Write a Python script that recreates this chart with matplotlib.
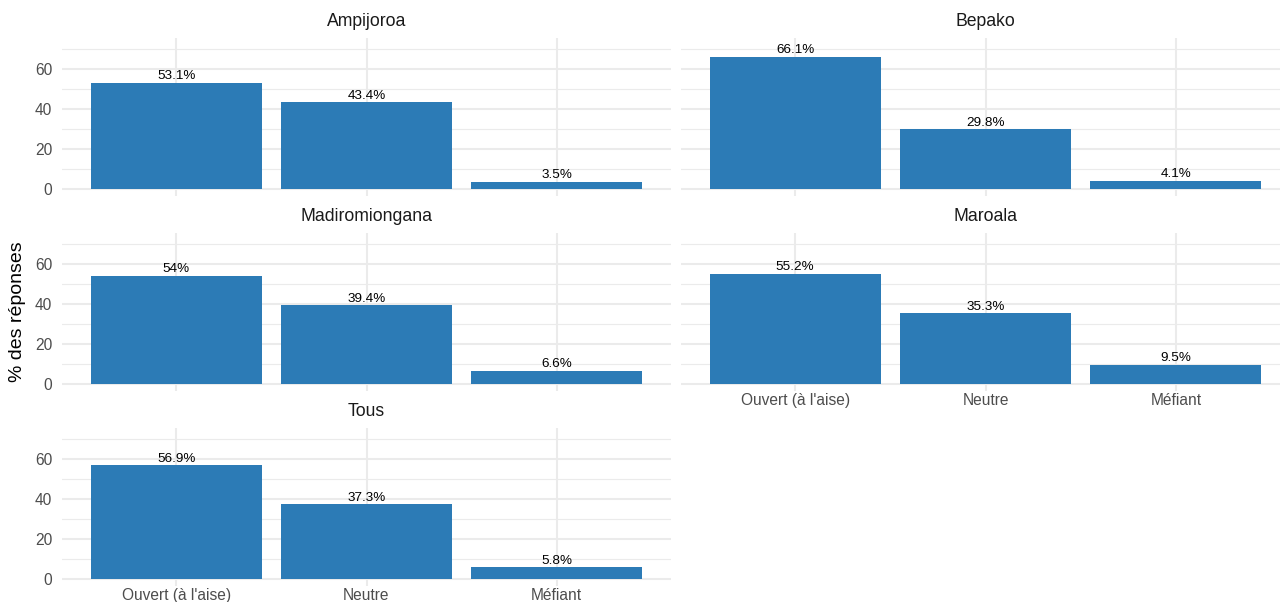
import matplotlib
matplotlib.use('Agg')
import matplotlib.pyplot as plt
from matplotlib.ticker import FixedLocator

plt.rcParams['font.family'] = ['Liberation Sans', 'DejaVu Sans']

# data
sites = ['Ampijoroa', 'Bepako', 'Madiromiongana', 'Maroala', 'Tous']
categories = ["Ouvert (à l'aise)", 'Neutre', 'Méfiant']
ampijoroa = [53.1, 43.4, 3.5]
bepako = [66.1, 29.8, 4.1]
madiromiongana = [54.0, 39.4, 6.6]
maroala = [55.2, 35.3, 9.5]
tous = [56.9, 37.3, 5.8]
values = [ampijoroa, bepako, madiromiongana, maroala, tous]

major_ticks = [0, 20, 40, 60]
minor_ticks = [10, 30, 50, 70]

bar_color = '#2C7BB6'
grid_color = '#EBEBEB'

W, H = 1280, 602
fig = plt.figure(figsize=(W / 100, H / 100), dpi=100)

# panel boxes in pixels: left, top, width, height
col_left = [62, 681]
row_top = [38, 233, 428]
pw, ph = 609, 158

x = [1, 2, 3]
for i, (site, vals) in enumerate(zip(sites, values)):
    r, c = divmod(i, 2)
    left, top = col_left[c], row_top[r]
    ax = fig.add_axes([left / W, 1 - (top + ph) / H, pw / W, ph / H])
    ax.set_xlim(0.4, 3.6)
    ax.set_ylim(-3.6, 75.6)
    ax.set_axisbelow(True)
    for s in ax.spines.values():
        s.set_visible(False)

    ax.yaxis.set_major_locator(FixedLocator(major_ticks))
    ax.yaxis.set_minor_locator(FixedLocator(minor_ticks))
    ax.set_xticks(x)
    ax.grid(axis='y', which='major', color=grid_color, linewidth=1.5)
    ax.grid(axis='y', which='minor', color=grid_color, linewidth=0.8)
    ax.grid(axis='x', which='major', color=grid_color, linewidth=1.5)
    ax.tick_params(which='both', length=0)
    ax.tick_params(axis='y', labelsize=11.2, labelcolor='#4D4D4D', pad=7)
    ax.tick_params(axis='x', labelsize=11.2, labelcolor='#4D4D4D', pad=1.2)

    ax.bar(x, vals, width=0.9, color=bar_color)
    for xi, v in zip(x, vals):
        ax.annotate(f'{v:g}%', (xi, v), xytext=(0, 0.5), textcoords='offset points',
                    ha='center', va='bottom', fontsize=9.7, color='black')

    ax.text(0.5, 1 + 16 / ph, site, transform=ax.transAxes, ha='center', va='center',
            fontsize=12.7, color='#1A1A1A')

    if c == 0:
        ax.set_yticklabels([str(t) for t in major_ticks])
    else:
        ax.set_yticklabels([])
    # x labels only on the last panel of each column
    if site in ('Maroala', 'Tous'):
        ax.set_xticklabels(categories)
    else:
        ax.set_xticklabels([])

fig.text(18 / W, 1 - 312 / H, '% des réponses', rotation=90, ha='center', va='center',
         fontsize=14, color='black')

fig.savefig('out.png', dpi=100, facecolor='white')
